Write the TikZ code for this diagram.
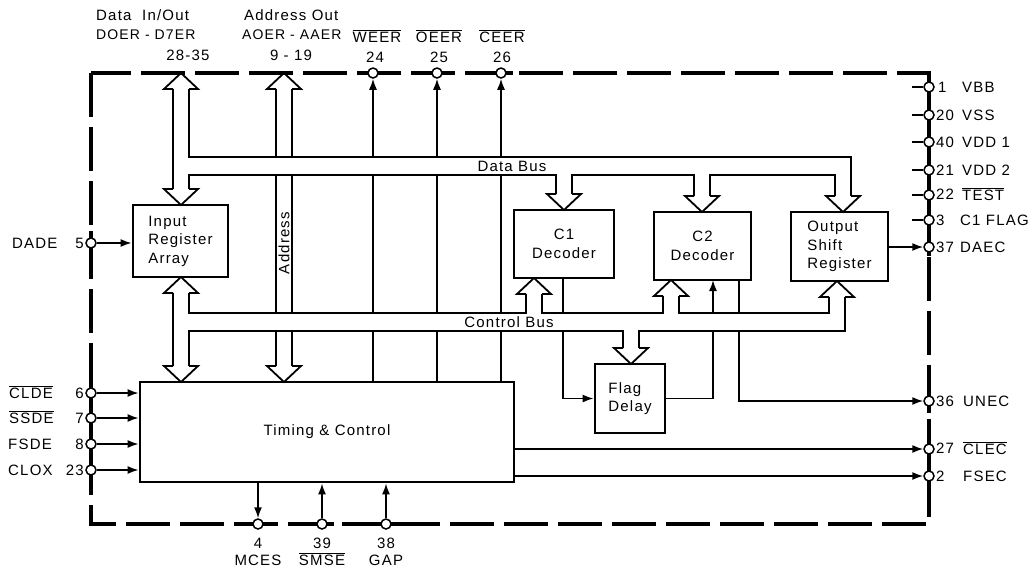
\documentclass[tikz,border=0pt]{standalone}
\usepackage{fontspec}
\setmainfont[LetterSpace=8]{Liberation Sans}
\usetikzlibrary{arrows.meta}
\newcommand\ovl[1]{\ensuremath{\overline{\hbox{#1}}}}
\newcommand\headdown[2]{\draw[bus] (#1-8,#2-16) -- (#1-17,#2-16) -- (#1,#2) -- (#1+17,#2-16) -- (#1+8,#2-16);}
\newcommand\headup[2]{\draw[bus] (#1-8,#2+16) -- (#1-17,#2+16) -- (#1,#2) -- (#1+17,#2+16) -- (#1+8,#2+16);}
\tikzset{
  lbl/.style={font=\fontsize{15}{17}\selectfont, inner sep=0pt},
  lbls/.style={font=\fontsize{14}{17}\selectfont, inner sep=0pt},
  box/.style={draw, line width=2.8pt, inner sep=0pt, align=left, fill=white, font=\fontsize{15}{18.5}\selectfont},
  pin/.style={circle, draw, line width=1.5pt, fill=white, minimum size=10pt, inner sep=0pt},
  sig/.style={line width=1.6pt},
  sigarr/.style={sig, -{Latex[length=11pt,width=8pt]}},
  bus/.style={line width=1.8pt, line join=miter},
  border/.style={line width=3.6pt, dash pattern=on 44pt off 10pt},
  solidb/.style={line width=3.6pt},
}
\begin{document}
\begin{tikzpicture}[x=1pt,y=-1pt]
\useasboundingbox (0,0) rectangle (1036,574);

% boxes
\node[box, minimum width=95pt, minimum height=72pt] (in) at (180.5,241) {Input\\Register\\Array};
\node[box, minimum width=100pt, minimum height=68pt, align=center] (c1) at (564,244) {C1\\Decoder};
\node[box, minimum width=97pt, minimum height=68pt, align=center] (c2) at (702.5,246) {C2\\Decoder};
\node[box, minimum width=97pt, minimum height=69pt] (osr) at (839.5,246.5) {Output\\Shift\\Register};
\node[box, minimum width=70pt, minimum height=69pt] (fd) at (630,398.5) {Flag\\Delay};
\node[box, minimum width=374pt, minimum height=100pt, align=center] (tc) at (327,432) {Timing \& Control};

% border
\draw[border] (91,73) rectangle (929,524);
\draw[solidb] (929,73) -- (929,256);
\draw[solidb] (929,390) -- (929,413);
\draw[solidb] (929,438) -- (929,488);
\draw[solidb] (91,380) -- (91,488);
\draw[solidb] (91,231) -- (91,255);
\foreach \xx in {361,425,489} \draw[solidb] (\xx,73) -- ++(24,0);
\foreach \xx in {246,310,374} \draw[solidb] (\xx,524) -- ++(24,0);

% pins
\node[pin] (pDADE) at (91,243) {};
\node[pin] (pCLDE) at (91,393) {};
\node[pin] (pSSDE) at (91,418) {};
\node[pin] (pFSDE) at (91,444) {};
\node[pin] (pCLOX) at (91,470) {};
\node[pin] (pWEER) at (373,73) {};
\node[pin] (pOEER) at (437,73) {};
\node[pin] (pCEER) at (501,73) {};
\node[pin] (pMCES) at (258,524) {};
\node[pin] (pSMSE) at (322,524) {};
\node[pin] (pGAP) at (386,524) {};
\node[pin] (pVBB) at (929,87) {};
\node[pin] (pVSS) at (929,115) {};
\node[pin] (pVDDa) at (929,142) {};
\node[pin] (pVDDb) at (929,170) {};
\node[pin] (pTEST) at (929,195) {};
\node[pin] (pCFLAG) at (929,220) {};
\node[pin] (pDAEC) at (929,247) {};
\node[pin] (pUNEC) at (929,401) {};
\node[pin] (pCLEC) at (929,449) {};
\node[pin] (pFSEC) at (929,476) {};

% signal lines (drawn before bus fills)
\draw[sigarr] (pWEER |- tc.north) -- (pWEER);
\draw[sigarr] (pOEER |- tc.north) -- (pOEER);
\draw[sigarr] (pCEER |- tc.north) -- (pCEER);
\draw[bus] (276,89) -- (276,366);
\draw[bus] (292,89) -- (292,366);
\coordinate (c1out) at (563,278);
\draw[sigarr] (c1out) |- (fd.west);
\coordinate (c2in) at (713,280);
\draw[sigarr] (fd.east) -| (c2in);
\coordinate (c2out) at (739,280);
\draw[sigarr] (c2out) |- (pUNEC);

% bus interiors
\fill[white] (190,158) rectangle (850,174);
\fill[white] (190,314) rectangle (844,330);

% data bus
\headup{181}{73}
\headdown{181}{205}
\draw[bus] (173,89) -- (173,189);
\draw[bus] (189,89) -- (189,157) -- (851,157) -- (851,196);
\draw[bus] (189,189) -- (189,175) -- (556,175) -- (556,194);
\headdown{564}{210}
\draw[bus] (572,194) -- (572,175) -- (694,175) -- (694,196);
\headdown{702}{212}
\draw[bus] (710,196) -- (710,175) -- (835,175) -- (835,196);
\headdown{843}{212}
\node[lbl] (dbus) at (512,166) {Data Bus};

% address bus
\headup{284}{73}
\headdown{284}{382}
\node[lbl, rotate=90] (addr) at (284,243) {Address};

% control bus
\headup{181}{277}
\headdown{181}{382}
\draw[bus] (173,293) -- (173,366);
\draw[bus] (189,293) -- (189,313) -- (526,313) -- (526,294);
\headup{534}{278}
\draw[bus] (542,294) -- (542,313) -- (663,313) -- (663,296);
\headup{671}{280}
\draw[bus] (679,296) -- (679,313) -- (829,313) -- (829,297);
\headup{837}{281}
\draw[bus] (189,366) -- (189,331) -- (623,331) -- (623,348);
\headdown{631}{364}
\draw[bus] (639,348) -- (639,331) -- (845,331) -- (845,297);
\node[lbl] (cbus) at (509,322) {Control Bus};

% other signal connectors
\draw[sigarr] (pDADE) -- (pDADE -| in.west);
\draw[sigarr] (pCLDE) -- (pCLDE -| tc.west);
\draw[sigarr] (pSSDE) -- (pSSDE -| tc.west);
\draw[sigarr] (pFSDE) -- (pFSDE -| tc.west);
\draw[sigarr] (pCLOX) -- (pCLOX -| tc.west);
\draw[sigarr] (pMCES |- tc.south) -- (pMCES);
\draw[sigarr] (pSMSE) -- (pSMSE |- tc.south);
\draw[sigarr] (pGAP) -- (pGAP |- tc.south);
\draw[sigarr] (osr.east |- pDAEC) -- (pDAEC);
\draw[sigarr] (tc.east |- pCLEC) -- (pCLEC);
\draw[sigarr] (tc.east |- pFSEC) -- (pFSEC);
\foreach \p in {pVBB,pVSS,pVDDa,pVDDb,pTEST,pCFLAG} \draw[sig] (\p.west) -- ++(-11,0);

% top labels
\node[lbl, anchor=west] (t1) at (96,15) {Data\ \ In/Out};
\node[lbls, anchor=west] (t2) at (96,35) {DOER - D7ER};
\node[lbl] (t3) at (188,55) {28-35};
\node[lbl, anchor=west] (t4) at (244,15) {Address Out};
\node[lbls, anchor=west] (t5) at (242,35) {AOER - AAER};
\node[lbl] (t6) at (291,55) {9 - 19};
\node[lbl] (t7) at (377,36) {\ovl{WEER}};
\node[lbl] (t8) at (375,57) {24};
\node[lbl] (t9) at (439,36) {\ovl{OEER}};
\node[lbl] (t10) at (439,57) {25};
\node[lbl] (t11) at (502,36) {\ovl{CEER}};
\node[lbl] (t12) at (502,57) {26};

% left labels
\node[lbl, anchor=west] (l1) at (12,243) {DADE};
\node[lbl, anchor=east] (l1n) at (84,243) {5};
\node[lbl, anchor=west] (l2) at (9,392) {\ovl{CLDE}};
\node[lbl, anchor=east] (l2n) at (84,393) {6};
\node[lbl, anchor=west] (l3) at (9,417) {\ovl{SSDE}};
\node[lbl, anchor=east] (l3n) at (84,418) {7};
\node[lbl, anchor=west] (l4) at (8,444) {FSDE};
\node[lbl, anchor=east] (l4n) at (84,444) {8};
\node[lbl, anchor=west] (l5) at (8,470) {CLOX};
\node[lbl, anchor=east] (l5n) at (84,470) {23};

% bottom labels
\node[lbl] (b1) at (258,543) {4};
\node[lbl] (b2) at (258,560) {MCES};
\node[lbl] (b3) at (322,543) {39};
\node[lbl] (b4) at (322,559) {\ovl{SMSE}};
\node[lbl] (b5) at (386,543) {38};
\node[lbl] (b6) at (386,560) {GAP};

% right labels
\node[lbl, anchor=west] (r1n) at (938,87) {1};
\node[lbl, anchor=west] (r1) at (962,87) {VBB};
\node[lbl, anchor=west] (r2n) at (936,115) {20};
\node[lbl, anchor=west] (r2) at (962,115) {VSS};
\node[lbl, anchor=west] (r3n) at (936,142) {40};
\node[lbl, anchor=west] (r3) at (962,142) {VDD 1};
\node[lbl, anchor=west] (r4n) at (936,170) {21};
\node[lbl, anchor=west] (r4) at (962,170) {VDD 2};
\node[lbl, anchor=west] (r5n) at (936,194) {22};
\node[lbl, anchor=west] (r5) at (962,194) {\ovl{TEST}};
\node[lbl, anchor=west] (r6n) at (936,220) {3};
\node[lbl, anchor=west] (r6) at (960,220) {C1 FLAG};
\node[lbl, anchor=west] (r7n) at (936,247) {37};
\node[lbl, anchor=west] (r7) at (960,247) {DAEC};
\node[lbl, anchor=west] (r8n) at (936,401) {36};
\node[lbl, anchor=west] (r8) at (963,401) {UNEC};
\node[lbl, anchor=west] (r9n) at (936,448) {27};
\node[lbl, anchor=west] (r9) at (963,448) {\ovl{CLEC}};
\node[lbl, anchor=west] (r10n) at (936,476) {2};
\node[lbl, anchor=west] (r10) at (963,476) {FSEC};
\end{tikzpicture}
\end{document}
